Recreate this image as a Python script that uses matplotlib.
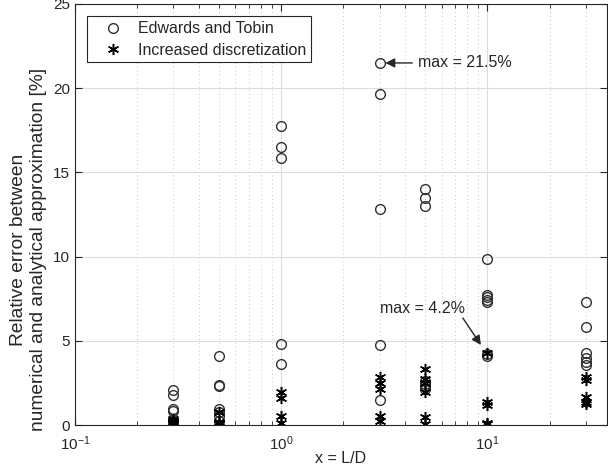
import numpy as np
import matplotlib
matplotlib.use('Agg')
import matplotlib.pyplot as plt
from matplotlib.ticker import LogLocator, NullFormatter

plt.rcParams['font.family'] = ['Liberation Sans', 'DejaVu Sans']
plt.rcParams['axes.unicode_minus'] = False

# L/D values
xPos = [0.3, 0.5, 1, 3, 5, 10, 30]

# Edwards and Tobin (circles), one list per L/D
edwards = [
    [2.1, 1.8, 0.95, 0.85, 0.35, 0.25],
    [4.1, 2.38, 2.3, 0.95, 0.75, 0.55, 0.25],
    [17.75, 16.5, 15.85, 4.8, 3.6],
    [21.5, 19.65, 12.85, 4.75, 1.5],
    [14.0, 13.5, 13.0, 2.6, 2.45, 2.3, 2.15],
    [9.85, 7.7, 7.6, 7.45, 7.3, 4.2, 4.1],
    [7.3, 5.8, 4.25, 4.0, 3.76, 3.55],
]

# Increased discretization (asterisks)
increased = [
    [0.35, 0.25, 0.15, 0.05],
    [0.75, 0.2, 0.1, 0.03],
    [1.95, 1.6, 0.55, 0.1],
    [2.87, 2.51, 2.12, 0.53, 0.26],
    [3.3, 2.71, 2.47, 1.98, 0.46, 0.03],
    [4.25, 1.35, 1.2, 0.1, 0.05],
    [2.87, 2.67, 1.68, 1.38, 1.24],
]

xE = np.concatenate([[x] * len(v) for x, v in zip(xPos, edwards)])
yE = np.concatenate(edwards)
xI = np.concatenate([[x] * len(v) for x, v in zip(xPos, increased)])
yI = np.concatenate(increased)

grey = '#262626'

fig = plt.figure(figsize=(6.08, 4.65), dpi=100)
ax = fig.add_axes([75 / 608, 40 / 465, 532 / 608, 421 / 465])

ax.plot(xE, yE, 'o', mfc='none', mec='#303030', ms=7, mew=1.0, label='Edwards and Tobin')
ax.plot(xI, yI, ls='none', marker=(6, 2, 0), color='black', ms=8, mew=1.1,
        label='Increased discretization')

ax.set_xscale('log')
ax.set_xlim(0.1, 38)
ax.set_ylim(0, 25)
ax.set_yticks([0, 5, 10, 15, 20, 25])
ax.xaxis.set_minor_locator(LogLocator(base=10, subs=np.arange(2, 10)))
ax.xaxis.set_minor_formatter(NullFormatter())

ax.grid(True, which='major', color='#dcdcdc', lw=0.8, ls='-')
ax.grid(True, which='minor', axis='x', color='#c8c8c8', lw=0.7, ls=(0, (1, 3)))
ax.set_axisbelow(True)

ax.tick_params(which='both', direction='in', colors=grey, labelsize=11, top=True, right=True)
ax.tick_params(which='major', length=5)
ax.tick_params(which='minor', length=3)
ax.tick_params(axis='x', which='major', pad=7)
for s in ax.spines.values():
    s.set_color(grey)
    s.set_linewidth(0.8)

ax.set_xlabel('x = L/D', fontsize=11.5, color=grey, labelpad=-2)
ax.set_ylabel('Relative error between\nnumerical and analytical approximation [%]',
              fontsize=13.8, color=grey)
ax.yaxis.set_label_coords(-0.053, 0.416)

ax.annotate('max = 21.5%', xy=(3.1, 21.5), xytext=(4.6, 21.5), fontsize=11.5, color=grey,
            va='center', ha='left',
            arrowprops=dict(arrowstyle='-|>', color=grey, lw=1.0, shrinkA=2, shrinkB=2,
                            mutation_scale=14))
ax.annotate('max = 4.2%', xy=(9.3, 4.75), xytext=(3.0, 6.9), fontsize=11.5, color=grey,
            va='center', ha='left')
ax.annotate('', xy=(9.3, 4.75), xytext=(7.6, 6.35),
            arrowprops=dict(arrowstyle='-|>', color=grey, lw=1.0, shrinkA=0, shrinkB=0,
                            mutation_scale=14))

leg = ax.legend(loc='upper left', bbox_to_anchor=(12 / 532, 1 - 12.5 / 421), fontsize=11.5,
                fancybox=False, framealpha=1, edgecolor=grey, borderpad=0.3,
                borderaxespad=0, handlelength=2.7, handletextpad=0.2, labelspacing=0.4)
for t in leg.get_texts():
    t.set_color(grey)
leg.get_frame().set_linewidth(0.8)

fig.savefig('out.png', dpi=100)
